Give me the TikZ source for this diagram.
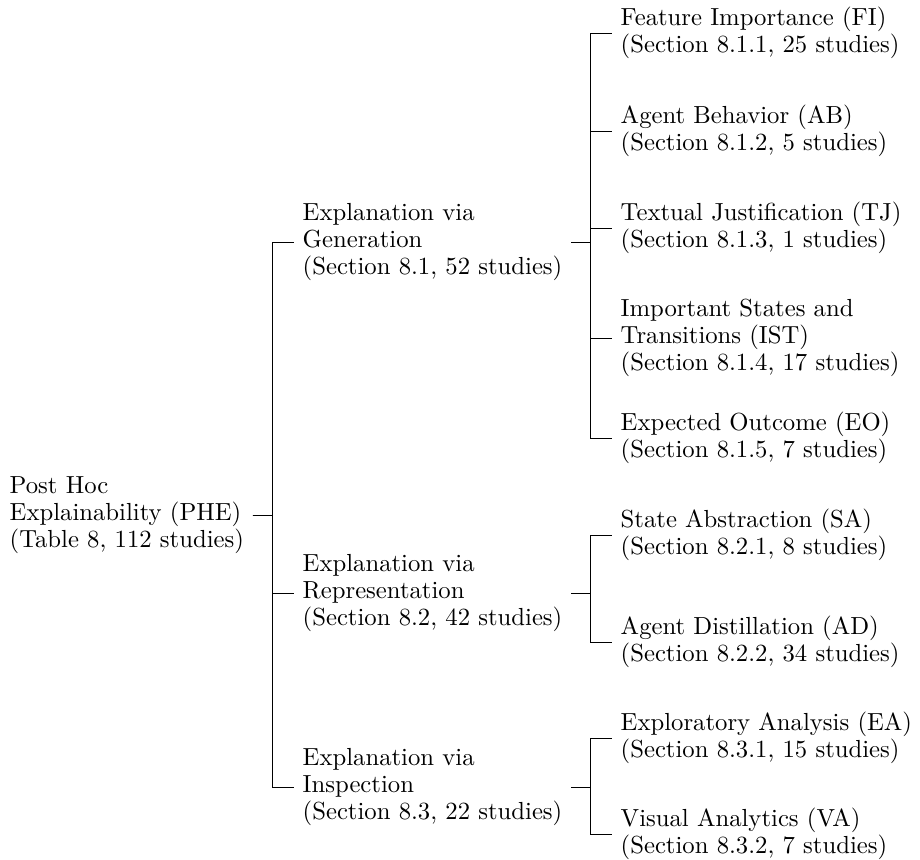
\documentclass[tikz,border=0pt]{standalone}
\begin{document}
\begin{tikzpicture}[x=0.4049pt,y=-0.4049pt,
  item/.style={anchor=west, align=left, inner sep=3.33pt,
    font=\fontsize{10}{11}\selectfont},
  link/.style={line width=0.4pt}]
\useasboundingbox (0,0) rectangle (920,859);

% root
\node[item] (phe) at (1,515) {Post Hoc\\Explainability (PHE)\\(Table 8, 112 studies)};

% second level
\node[item] (gen)  at (294,242) {Explanation via\\Generation\\(Section 8.1, 52 studies)};
\node[item] (rep)  at (294,593) {Explanation via\\Representation\\(Section 8.2, 42 studies)};
\node[item] (insp) at (294,787) {Explanation via\\Inspection\\(Section 8.3, 22 studies)};

% leaves
\node[item] (fi)  at (612,33)  {Feature Importance (FI)\\(Section 8.1.1, 25 studies)};
\node[item] (ab)  at (612,131) {Agent Behavior (AB)\\(Section 8.1.2, 5 studies)};
\node[item] (tj)  at (612,228) {Textual Justification (TJ)\\(Section 8.1.3, 1 studies)};
\node[item] (ist) at (612,338) {Important States and\\Transitions (IST)\\(Section 8.1.4, 17 studies)};
\node[item] (eo)  at (612,438) {Expected Outcome (EO)\\(Section 8.1.5, 7 studies)};
\node[item] (sa)  at (612,535) {State Abstraction (SA)\\(Section 8.2.1, 8 studies)};
\node[item] (ad)  at (612,642) {Agent Distillation (AD)\\(Section 8.2.2, 34 studies)};
\node[item] (ea)  at (612,738) {Exploratory Analysis (EA)\\(Section 8.3.1, 15 studies)};
\node[item] (va)  at (612,834) {Visual Analytics (VA)\\(Section 8.3.2, 7 studies)};

% fork columns
\coordinate (f1) at (272,0);
\coordinate (f2) at (590,0);

% forked edges, one per child
\foreach \c in {gen,rep,insp}
  \draw[link] (phe.east) -- (phe.east -| f1) |- (\c.west);
\foreach \c in {fi,ab,tj,ist,eo}
  \draw[link] (gen.east) -- (gen.east -| f2) |- (\c.west);
\foreach \c in {sa,ad}
  \draw[link] (rep.east) -- (rep.east -| f2) |- (\c.west);
\foreach \c in {ea,va}
  \draw[link] (insp.east) -- (insp.east -| f2) |- (\c.west);
\end{tikzpicture}
\end{document}
